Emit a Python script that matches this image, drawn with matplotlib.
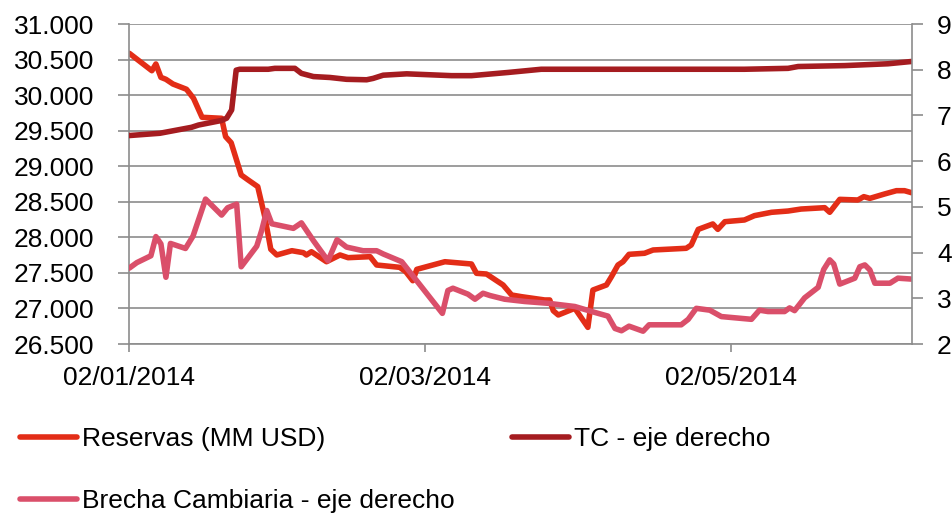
import matplotlib
matplotlib.use('Agg')
from matplotlib import pyplot as plt
import matplotlib.dates as mdates
from matplotlib.ticker import FuncFormatter, FixedLocator
import numpy as np

plt.rcParams['font.family'] = ['Liberation Sans', 'DejaVu Sans']

start = mdates.datestr2num('2014-01-02')

# days since 02/01/2014
dias_res = [0, 4.5, 5.3, 6.3, 7.3, 8.7, 11.4, 12.8, 14.5, 18.4, 19.2, 20.3, 22.3, 23.7,
            25.6, 27.0, 28.2, 29.4, 32.4, 34.7, 35.3, 36.3, 39.3, 42.0, 43.6, 48.0,
            49.3, 53.9, 55.1, 56.5, 57.3, 62.9, 68.2, 69.2, 71.2, 74.5, 76.2, 78.2,
            82.8, 83.8, 84.5, 85.5, 88.8, 91.4, 92.4, 95.1, 96.1, 97.4, 98.4, 99.6,
            102.7, 104.4, 111.0, 112.0, 113.4, 116.3, 117.3, 118.7, 122.6, 124.6,
            128.0, 131.3, 133.9, 138.6, 139.6, 141.6, 145.2, 146.4, 147.6, 150.5,
            152.9, 154.5, 155.9]
reservas = [30588, 30343, 30438, 30250, 30222, 30156, 30082, 29955, 29688, 29674,
            29415, 29331, 28877, 28806, 28713, 28290, 27832, 27752, 27812, 27784,
            27752, 27798, 27657, 27752, 27714, 27728, 27611, 27578, 27517, 27390,
            27550, 27657, 27625, 27494, 27484, 27330, 27189, 27165, 27119, 27119,
            26968, 26908, 27002, 26734, 27259, 27330, 27447, 27611, 27657, 27761,
            27776, 27822, 27846, 27892, 28112, 28188, 28112, 28220, 28244, 28305,
            28352, 28370, 28398, 28417, 28352, 28534, 28525, 28572, 28548, 28609,
            28656, 28656, 28628]

dias_tc = [0, 6.1, 12.4, 13.8, 18.4, 19.4, 20.4, 21.3, 22.0, 27.7, 29.0, 33.0, 34.3,
           36.7, 40.0, 43.3, 47.3, 48.6, 50.6, 55.3, 64.2, 68.2, 75.5, 82.1, 122.6,
           131.3, 133.3, 142.6, 151.2, 155.9]
tc = [6.56, 6.61, 6.74, 6.79, 6.89, 6.94, 7.12, 7.99, 8.01, 8.01, 8.03, 8.03, 7.92,
      7.85, 7.83, 7.79, 7.78, 7.81, 7.88, 7.91, 7.87, 7.87, 7.94, 8.01, 8.01, 8.03,
      8.07, 8.09, 8.13, 8.18]

dias_br = [0, 1.5, 4.3, 5.3, 6.3, 7.3, 8.2, 11.2, 12.7, 15.2, 18.4, 19.6, 21.4, 22.3,
           25.4, 26.4, 27.4, 28.4, 32.7, 34.3, 36.7, 39.6, 41.4, 43.3, 46.6, 49.3,
           50.6, 54.3, 62.4, 63.5, 64.5, 67.5, 68.9, 70.5, 71.9, 74.8, 78.8, 83.5,
           88.8, 92.8, 95.4, 96.8, 98.1, 99.6, 102.4, 103.6, 110.0, 111.4, 113.0,
           115.7, 118.0, 124.0, 125.6, 127.3, 130.6, 131.6, 132.6, 134.6, 137.3,
           138.4, 139.6, 140.4, 141.6, 144.6, 145.6, 146.6, 147.6, 148.6, 151.6,
           153.2, 155.9]
brecha = [3.66, 3.78, 3.93, 4.35, 4.19, 3.46, 4.20, 4.09, 4.36, 5.17, 4.82, 4.98,
          5.06, 3.69, 4.14, 4.49, 4.92, 4.63, 4.53, 4.65, 4.26, 3.82, 4.28, 4.12,
          4.04, 4.04, 3.97, 3.80, 2.67, 3.17, 3.22, 3.09, 2.98, 3.11, 3.06, 2.98,
          2.93, 2.89, 2.82, 2.69, 2.61, 2.34, 2.29, 2.39, 2.28, 2.42, 2.42, 2.54,
          2.78, 2.74, 2.60, 2.54, 2.74, 2.71, 2.71, 2.79, 2.73, 3.01, 3.24, 3.63,
          3.84, 3.75, 3.31, 3.44, 3.69, 3.73, 3.62, 3.33, 3.33, 3.44, 3.42]

tick_fechas = ['2014-01-02', '2014-03-02', '2014-05-02']
etiquetas = ['Reservas (MM USD)', 'TC - eje derecho', 'Brecha Cambiaria - eje derecho']
colores = ['#E32D17', '#A51C20', '#DA4F6A']
gris = '#8C8C8C'

fig = plt.figure(figsize=(9.53, 5.15), dpi=100)
ax = fig.add_axes([129.3 / 953, 171 / 515, 782.7 / 953, 320 / 515])
ax2 = ax.twinx()

kw = dict(lw=4.0, solid_joinstyle='round', solid_capstyle='round')
l1, = ax.plot(start + np.array(dias_res), reservas, color=colores[0], **kw)
l2, = ax2.plot(start + np.array(dias_tc), tc, color=colores[1], **kw)
l3, = ax2.plot(start + np.array(dias_br), brecha, color=colores[2], **kw)

ax.set_xlim(start, start + 156)
ax.set_ylim(26500, 31000)
ax2.set_ylim(2, 9)
ax.set_yticks(np.arange(26500, 31001, 500))
ax2.set_yticks(np.arange(2, 10, 1))
ax.xaxis.set_major_locator(FixedLocator([mdates.datestr2num(d) for d in tick_fechas]))
ax.xaxis.set_major_formatter(mdates.DateFormatter('%d/%m/%Y'))
ax.yaxis.set_major_formatter(FuncFormatter(lambda v, p: f'{v:,.0f}'.replace(',', '.')))

ax.yaxis.grid(True, color=gris, lw=1.2)
ax.set_axisbelow(True)

for a in (ax, ax2):
    a.spines['top'].set_visible(False)
    for s in ('left', 'right', 'bottom'):
        a.spines[s].set_color(gris)
        a.spines[s].set_linewidth(1.2)
ax2.spines['left'].set_visible(False)
ax2.spines['bottom'].set_visible(False)
ax.spines['right'].set_visible(False)

ax.tick_params(axis='y', length=8, width=1.2, color=gris, pad=17, labelsize=19)
ax.tick_params(axis='x', length=6, width=1.2, color=gris, pad=10, labelsize=19)
ax2.tick_params(axis='y', length=8, width=1.2, color=gris, pad=10, labelsize=19)

fig.legend([l1, l3, l2], [etiquetas[0], etiquetas[2], etiquetas[1]], ncol=2,
           loc='upper left', bbox_to_anchor=(20 / 953, 1 - 427 / 515),
           frameon=False, fontsize=19, handlelength=2.16, handletextpad=0.18,
           columnspacing=2.2, labelspacing=1.45, borderpad=0, borderaxespad=0)

fig.savefig('out.png', dpi=100)
